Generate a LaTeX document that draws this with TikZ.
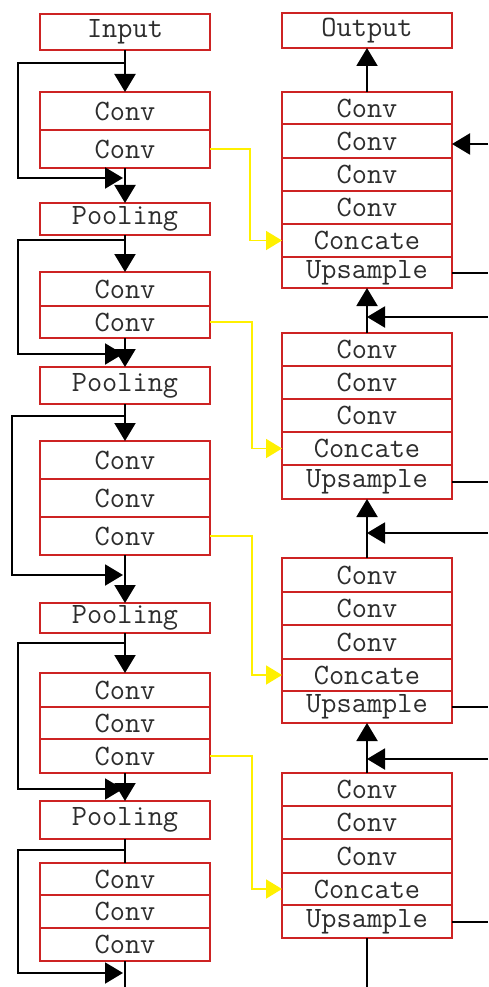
\documentclass[tikz,border=0pt]{standalone}
\usepackage{fontspec}
\usetikzlibrary{arrows.meta,calc}
\definecolor{boxred}{RGB}{205,35,35}
\definecolor{txt}{RGB}{45,45,45}
\definecolor{skipy}{RGB}{255,240,0}
\newcommand{\lbl}[1]{#1}
\begin{document}
\begin{tikzpicture}[x=1pt,y=-1pt,
  box/.style={draw=boxred, line width=1.6pt, fill=white, minimum width=170pt,
    inner sep=0pt, outer sep=0pt, font=\ttfamily\fontsize{29.5}{29.5}\selectfont, text=txt},
  arr/.style={line width=2pt, -{Triangle[length=18pt,width=21pt]}},
  ln/.style={line width=2pt},
  yarr/.style={draw=skipy, line width=1.8pt, -{Triangle[length=16pt,width=19pt]}}]
\useasboundingbox (0,0) rectangle (488,987);

% ---------- left column ----------
\node[box,minimum height=36pt] (In) at (125,32) {\lbl{Input}};
\node[box,minimum height=38pt] (L1a) at (125,111) {\lbl{Conv}};
\node[box,minimum height=38pt] (L1b) at (125,149) {\lbl{Conv}};
\node[box,minimum height=32pt] (P1) at (125,219) {\lbl{Pooling}};
\node[box,minimum height=34pt] (L2a) at (125,289) {\lbl{Conv}};
\node[box,minimum height=32pt] (L2b) at (125,322) {\lbl{Conv}};
\node[box,minimum height=37pt] (P2) at (125,385.5) {\lbl{Pooling}};
\node[box,minimum height=38pt] (L3a) at (125,460) {\lbl{Conv}};
\node[box,minimum height=38pt] (L3b) at (125,498) {\lbl{Conv}};
\node[box,minimum height=38pt] (L3c) at (125,536) {\lbl{Conv}};
\node[box,minimum height=30pt] (P3) at (125,618) {\lbl{Pooling}};
\node[box,minimum height=34pt] (L4a) at (125,690) {\lbl{Conv}};
\node[box,minimum height=32pt] (L4b) at (125,723) {\lbl{Conv}};
\node[box,minimum height=34pt] (L4c) at (125,756) {\lbl{Conv}};
\node[box,minimum height=38pt] (P4) at (125,820) {\lbl{Pooling}};
\node[box,minimum height=32pt] (L5a) at (125,879) {\lbl{Conv}};
\node[box,minimum height=33pt] (L5b) at (125,911.5) {\lbl{Conv}};
\node[box,minimum height=33pt] (L5c) at (125,944.5) {\lbl{Conv}};

% ---------- right column ----------
\node[box,minimum height=35pt] (Out) at (367,30.5) {\lbl{Output}};
\node[box,minimum height=32pt] (R1a) at (367,108) {\lbl{Conv}};
\node[box,minimum height=34pt] (R1b) at (367,141) {\lbl{Conv}};
\node[box,minimum height=33pt] (R1c) at (367,174.5) {\lbl{Conv}};
\node[box,minimum height=33pt] (R1d) at (367,207.5) {\lbl{Conv}};
\node[box,minimum height=33pt] (R1e) at (367,240.5) {\lbl{Concate}};
\node[box,minimum height=31pt] (R1f) at (367,272.5) {\lbl{Upsample}};

\node[box,minimum height=33pt] (R2a) at (367,349.5) {\lbl{Conv}};
\node[box,minimum height=33pt] (R2b) at (367,382.5) {\lbl{Conv}};
\node[box,minimum height=33pt] (R2c) at (367,415.5) {\lbl{Conv}};
\node[box,minimum height=33pt] (R2d) at (367,448.5) {\lbl{Concate}};
\node[box,minimum height=34pt] (R2e) at (367,482) {\lbl{Upsample}};

\node[box,minimum height=34pt] (R3a) at (367,575) {\lbl{Conv}};
\node[box,minimum height=33pt] (R3b) at (367,608.5) {\lbl{Conv}};
\node[box,minimum height=34pt] (R3c) at (367,642) {\lbl{Conv}};
\node[box,minimum height=32pt] (R3d) at (367,675) {\lbl{Concate}};
\node[box,minimum height=32pt] (R3e) at (367,707) {\lbl{Upsample}};

\node[box,minimum height=33pt] (R4a) at (367,789.5) {\lbl{Conv}};
\node[box,minimum height=33pt] (R4b) at (367,822.5) {\lbl{Conv}};
\node[box,minimum height=34pt] (R4c) at (367,856) {\lbl{Conv}};
\node[box,minimum height=32pt] (R4d) at (367,889) {\lbl{Concate}};
\node[box,minimum height=33pt] (R4e) at (367,921.5) {\lbl{Upsample}};

% ---------- left connectors ----------
\draw[arr] (In.south) -- (L1a.north);
\draw[arr] (L1b.south) -- (P1.north);
\draw[arr] (P1.south) -- (L2a.north);
\draw[arr] (L2b.south) -- (P2.north);
\draw[arr] (P2.south) -- (L3a.north);
\draw[arr] (L3c.south) -- (P3.north);
\draw[arr] (P3.south) -- (L4a.north);
\draw[arr] (L4c.south) -- (P4.north);
\draw[ln] (P4.south) -- (L5a.north);
\coordinate (bl) at (125,987);
\draw[ln] (L5c.south) -- (bl);

% skip connections
\coordinate (s1) at (125,63);  \coordinate (t1) at (123,178);
\coordinate (s2) at (125,240); \coordinate (t2) at (123,354);
\coordinate (s3) at (125,416); \coordinate (t3) at (123,575);
\coordinate (s4) at (125,643); \coordinate (t4) at (123,789);
\coordinate (s5) at (125,850); \coordinate (t5) at (123,973);
\draw[arr] (s1) -| (18,178) -- (t1);
\draw[arr] (s2) -| (18,354) -- (t2);
\draw[arr] (s3) -| (12,575) -- (t3);
\draw[arr] (s4) -| (18,789) -- (t4);
\draw[arr] (s5) -| (18,973) -- (t5);

% yellow lateral connections
\draw[yarr] (L1b.east) -| ($(R1e.west)+(-32,0)$) -- (R1e.west);
\draw[yarr] (L2b.east) -| ($(R2d.west)+(-30,0)$) -- (R2d.west);
\draw[yarr] (L3c.east) -| ($(R3d.west)+(-30,0)$) -- (R3d.west);
\draw[yarr] (L4c.east) -| ($(R4d.west)+(-30,0)$) -- (R4d.west);

% ---------- right connectors ----------
\draw[arr] (R1a.north) -- (Out.south);
\draw[arr] (R2a.north) -- (R1f.south);
\draw[arr] (R3a.north) -- (R2e.south);
\draw[arr] (R4a.north) -- (R3e.south);
\coordinate (br) at (367,987);
\draw[ln] (R4e.south) -- (br);

\coordinate (e1) at (488,144);
\draw[arr] (e1) -- (e1 -| R1b.east);
\coordinate (h1) at (488,317);
\coordinate (h2) at (488,533);
\coordinate (h3) at (488,759);
\draw[arr] (h1) -- (h1 -| R2a.north);
\draw[arr] (h2) -- (h2 -| R3a.north);
\draw[arr] (h3) -- (h3 -| R4a.north);

\coordinate (u1) at (488,272.5);
\coordinate (u2) at (488,482);
\coordinate (u3) at (488,707);
\coordinate (u4) at (488,921.5);
\draw[ln] (R1f.east) -- (u1);
\draw[ln] (R2e.east) -- (u2);
\draw[ln] (R3e.east) -- (u3);
\draw[ln] (R4e.east) -- (u4);
\end{tikzpicture}
\end{document}
